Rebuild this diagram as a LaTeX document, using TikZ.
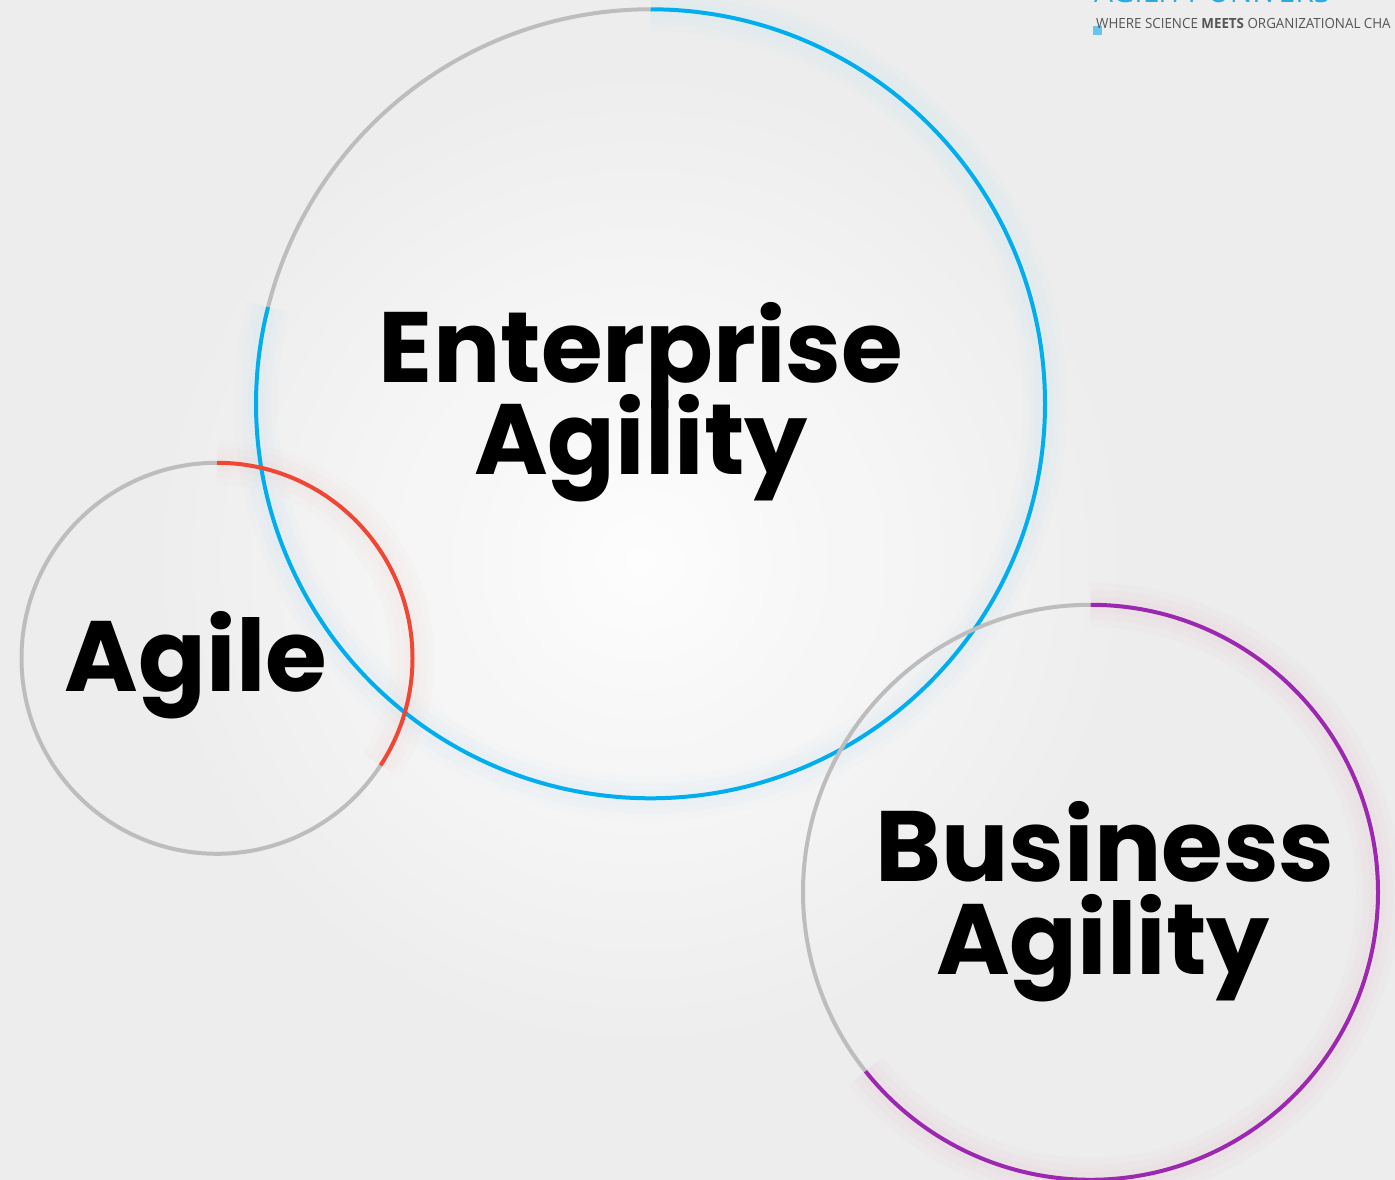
\documentclass[tikz,border=0pt]{standalone}
\usepackage{fontspec}
\newfontfamily\pop{Poppins}
\newfontfamily\logo{Open Sans}
\definecolor{bgc}{HTML}{EDEDED}
\definecolor{ringgray}{HTML}{BDBDBD}
\definecolor{entblue}{HTML}{00AEEF}
\definecolor{agred}{HTML}{F04634}
\definecolor{buspurple}{HTML}{9C27B0}
\definecolor{logoblue}{HTML}{29ABE2}
\definecolor{logogray}{HTML}{555555}
\tikzset{
  ring/.style={line width=4pt},
  glowa/.style={line width=44pt, opacity=0.015},
  glowb/.style={line width=30pt, opacity=0.015},
  glowc/.style={line width=16pt, opacity=0.015},
  big/.style={font=\pop\bfseries\fontsize{100}{100}\selectfont, inner sep=0pt, anchor=base},
  holder/.style={circle, inner sep=0pt, draw=none},
}
\begin{document}
\begin{tikzpicture}[x=1pt,y=1pt]
\useasboundingbox (0,0) rectangle (1395,1180);
\clip (0,0) rectangle (1395,1180);
\fill[bgc] (0,0) rectangle (1395,1180);
\shade[inner color=white, outer color=bgc, opacity=0.9] (640,620) circle[radius=520];
% holders
\node[holder, minimum size=789pt] (ent) at (650.5,776) {};
\node[holder, minimum size=391pt] (agl) at (217,521.5) {};
\node[holder, minimum size=575pt] (bus) at (1090.5,287.5) {};
% soft glows
\foreach \g in {glowa,glowb,glowc}{
  \draw[\g, entblue] (ent.90) arc[start angle=90, end angle=-194.2, radius=394.5];
  \draw[\g, agred] (agl.90) arc[start angle=90, end angle=-33.2, radius=195.5];
  \draw[\g, buspurple!50!red] (bus.90) arc[start angle=90, end angle=-141.5, radius=287.5];
}
% Enterprise ring
\draw[ring, ringgray] (ent.90) arc[start angle=90, end angle=165.8, radius=394.5];
\draw[ring, entblue] (ent.90) arc[start angle=90, end angle=-194.2, radius=394.5];
% Agile ring
\draw[ring, ringgray] (agl.90) arc[start angle=90, end angle=326.8, radius=195.5];
\draw[ring, agred] (agl.90) arc[start angle=90, end angle=-33.2, radius=195.5];
% Business ring
\draw[ring, ringgray] (bus.90) arc[start angle=90, end angle=218.5, radius=287.5];
\draw[ring, buspurple] (bus.90) arc[start angle=90, end angle=-141.5, radius=287.5];
% texts
\node[big] (t1) at (641,797) {Enterprise};
\node[big] (t2) at (641,705) {Agility};
\node[big] (t3) at (196,488) {Agile};
\node[big] (t4) at (1105,298) {Business};
\node[big] (t5) at (1103,205) {Agility};
% logo
\fill[logoblue!70] (1093,1145) rectangle (1102,1154);
\node[anchor=base west, inner sep=0pt, font=\logo\fontsize{14}{14}\selectfont, text=logogray, xscale=0.955] (slogan) at (1096,1151) {WHERE SCIENCE \textbf{MEETS} ORGANIZATIONAL CHA};
\node[anchor=base west, inner sep=0pt, font=\logo\fontsize{30}{30}\selectfont, text=logoblue] (brand) at (1094,1177.5) {AGILITY UNIVERS};
\end{tikzpicture}
\end{document}
